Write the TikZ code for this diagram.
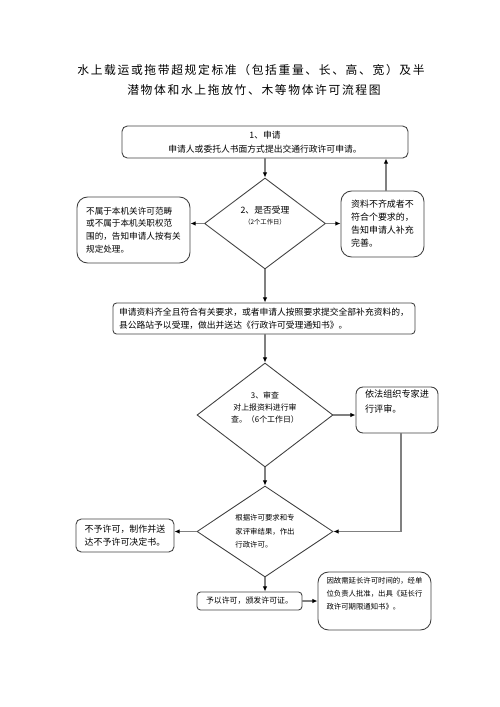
\documentclass[tikz,border=0pt]{standalone}
\usepackage{fontspec}
\setmainfont{Noto Sans CJK SC}
\newfontfamily\titlefont[LetterSpace=14]{Noto Sans CJK SC}
\usetikzlibrary{arrows.meta,shapes.geometric}
\setlength{\lineskiplimit}{-20pt}

\begin{document}
\begin{tikzpicture}[x=0.02cm, y=-0.02cm,
    box/.style={draw=black!75, line width=0.5pt, rounded corners=2pt, inner sep=0pt, align=left},
    choice/.style={draw=black!75, line width=0.5pt, diamond, aspect=1.3, inner sep=0pt, align=center},
    link/.style={draw=black!50, line width=0.9pt, -{Latex[length=3pt,width=2.6pt,color=black]}}]
    \useasboundingbox (0,0) rectangle (500,707);
    % title
    \node[font=\titlefont\fontsize{6.7}{8}\selectfont] (title1) at (251,70) {水上载运或拖带超规定标准（包括重量、长、高、宽）及半};
    \node[font=\titlefont\fontsize{6.7}{8}\selectfont] (title2) at (254,90) {潜物体和水上拖放竹、木等物体许可流程图};
    % step 1
    \node[box, align=center, minimum width=5.72cm, minimum height=0.64cm, rounded corners=3pt,
      font=\fontsize{5}{8}\selectfont] (apply) at (265,142)
      {1、申请\\ 申请人或委托人书面方式提出交通行政许可申请。};
    % step 2
    \node[choice, minimum width=2.42cm, minimum height=1.82cm, font=\fontsize{5}{6.4}\selectfont] (accept) at (265,223.5)
      {2、是否受理\\ {\fontsize{3.6}{5}\selectfont （2个工作日）}\\[3pt]};
    \node[box, minimum width=2.26cm, minimum height=1.32cm, rounded corners=6pt,
      font=\fontsize{4.9}{7.2}\selectfont] (reject) at (133.5,230)
      {不属于本机关许可范畴\\ 或不属于本机关职权范\\ 围的，告知申请人按有关\\ 规定处理。};
    \node[box, minimum width=1.66cm, minimum height=1.32cm, rounded corners=6pt,
      font=\fontsize{5.1}{7.4}\selectfont] (supply) at (382.5,224)
      {资料不齐成者不\\ 符合个要求的，\\ 告知申请人补充\\ 完善。};
    \node[box, minimum width=6.04cm, minimum height=0.62cm, font=\fontsize{5}{7.4}\selectfont] (accepted) at (264,318.5)
      {申请资料齐全且符合有关要求，或者申请人按照要求提交全部补充资料的，\\ 县公路站予以受理，做出并送达《行政许可受理通知书》。};
    % step 3
    \node[choice, minimum width=2.72cm, minimum height=2.08cm, font=\fontsize{4.5}{7}\selectfont] (review) at (265,415)
      {3、审查\\ 对上报资料进行审\\ 查。（6个工作日）\\[2pt]};
    \node[box, minimum width=1.64cm, minimum height=0.92cm, rounded corners=4pt,
      font=\fontsize{5.2}{8.2}\selectfont] (expert) at (397,410)
      {依法组织专家进\\ 行评审。\\[2pt]};
    \node[choice, align=left, minimum width=2.72cm, minimum height=1.82cm,
      font=\fontsize{4.2}{7.6}\selectfont] (decide) at (265,531.5)
      {根据许可要求和专\\ 家评审结果，作出\\ 行政许可。};
    \node[box, minimum width=1.96cm, minimum height=0.66cm, rounded corners=3pt,
      font=\fontsize{5.1}{7.4}\selectfont] (deny) at (125,535.5)
      {不予许可，制作并送\\ 达不予许可决定书。};
    \node[box, minimum width=2.1cm, minimum height=0.36cm, font=\fontsize{4.5}{6}\selectfont] (grant) at (249.5,601)
      {予以许可，颁发许可证。};
    \node[box, minimum width=2.26cm, minimum height=1.16cm, rounded corners=6pt,
      font=\fontsize{4.2}{7.4}\selectfont] (extend) at (374.5,601)
      {因故需延长许可时间的，经单\\ 位负责人批准，出具《延长行\\ 政许可期限通知书》。\\[1pt]};
    % connectors
    \draw[link] (apply) -- (accept);
    \draw[link] (accept.west) -- (accept.west -| reject.east);
    \draw[link] (accept.east) -- (accept.east -| supply.west);
    \draw[link] ([xshift=0.07cm]supply.north) -- ([xshift=0.07cm]supply.north |- apply.south);
    \draw[link] (accept.south) -- (accept.south |- accepted.north);
    \draw[link] (accepted.south -| review.north) -- (review.north);
    \draw[link] (review.east) -- (review.east -| expert.west);
    \draw[link] ([xshift=0.08cm]expert.south) |- (decide.east);
    \draw[link] (review.south) -- (decide.north);
    \draw[link] (decide.west) -- (decide.west -| deny.east);
    \draw[link] (decide.south) -- (decide.south |- grant.north);
    \draw[link] (grant.east) -- (grant.east -| extend.west);
\end{tikzpicture}
\end{document}
